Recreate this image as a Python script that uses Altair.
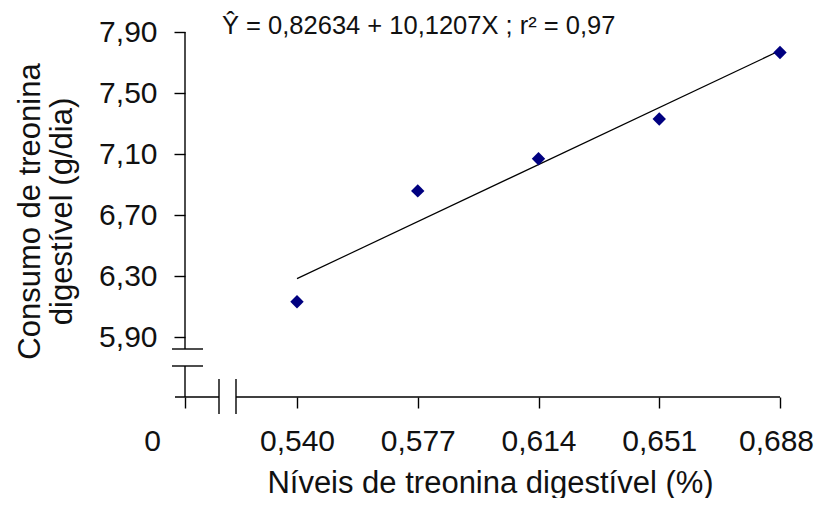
import altair as alt
import pandas as pd

# ---------------- data ----------------
levels = [0.540, 0.577, 0.614, 0.651, 0.688]          # Níveis de treonina digestível (%)
intake = [6.133, 6.859, 7.069, 7.330, 7.766]          # Consumo de treonina digestível (g/dia)
y_ticks = [5.90, 6.30, 6.70, 7.10, 7.50, 7.90]
origin_label = "0"
equation = "Ŷ = 0,82634  + 10,1207X ; r² = 0,97"
x_title = "Níveis de treonina digestível (%)"
y_title = ["Consumo de treonina", "digestível (g/dia)"]

# ---------------- layout ----------------
FONT = "Liberation Sans"
TXT = "#111111"
W, H = 595, 365
X_MIN, X_MAX = 0.50568, 0.688
Y_MIN, Y_MAX = 5.5085, 7.90
PX_X = W / (X_MAX - X_MIN)
PX_Y = H / (Y_MAX - Y_MIN)


def at_x(px):
    """data x at px pixels right of the y-axis line"""
    return X_MIN + px / PX_X


def at_y(px):
    """data y at px pixels above the x-axis line"""
    return Y_MIN + px / PX_Y


# hand-drawn axis lines with the break marks
segments = pd.DataFrame([
    dict(x=at_x(0), x2=at_x(0), y=Y_MAX, y2=at_y(48)),        # y axis, upper part
    dict(x=at_x(0), x2=at_x(0), y=at_y(31), y2=at_y(0)),      # y axis, lower part
    dict(x=at_x(-13), x2=at_x(18), y=at_y(48), y2=at_y(48)),  # y break mark
    dict(x=at_x(-13), x2=at_x(18), y=at_y(31), y2=at_y(31)),  # y break mark
    dict(x=at_x(-10), x2=at_x(34), y=at_y(0), y2=at_y(0)),    # x axis, left part
    dict(x=at_x(51), x2=X_MAX, y=at_y(0), y2=at_y(0)),        # x axis, right part
    dict(x=at_x(34), x2=at_x(34), y=at_y(18), y2=at_y(-17)),  # x break mark
    dict(x=at_x(51), x2=at_x(51), y=at_y(18), y2=at_y(-17)),  # x break mark
])

pts = pd.DataFrame({"x": levels, "y": intake})

x_scale = alt.Scale(domain=[X_MIN, X_MAX], nice=False, zero=False)
y_scale = alt.Scale(domain=[Y_MIN, Y_MAX], nice=False, zero=False)

first = levels[0] - 0.01
last = levels[-1] - 0.01
x_axis = alt.Axis(
    values=[X_MIN] + levels,
    labelExpr=f"datum.value < {first} ? '{origin_label}' : replace(format(datum.value, '.3f'), '.', ',')",
    labelOffset={
        "condition": [
            {"test": f"datum.value < {first}", "value": -33},
            {"test": f"datum.value > {last}", "value": -4},
        ],
        "value": 0,
    },
    labelFlush=False, labelOverlap=False,
    tickSize=11, labelPadding=18, domain=False, grid=False,
    title=x_title, titleX=305, titleY=95, titleAlign="center", titleBaseline="alphabetic",
)
y_axis = alt.Axis(
    values=y_ticks,
    labelExpr="replace(format(datum.value, '.2f'), '.', ',')",
    labelFlush=False, labelOverlap=False,
    tickSize=11, labelPadding=17, domain=False, grid=False,
    title=y_title, titleAngle=270, titleX=-146, titleY=179, titleAlign="center",
    titleBaseline="alphabetic", titleLineHeight=32,
)

X = alt.X("x:Q", scale=x_scale, axis=x_axis)
Y = alt.Y("y:Q", scale=y_scale, axis=y_axis)

axes_lines = alt.Chart(segments).mark_rule(color="#000000", strokeWidth=1.4).encode(
    x=X, x2="x2:Q", y=Y, y2="y2:Q"
)

trend = alt.Chart(pts).transform_regression("x", "y").mark_line(
    color="#000000", strokeWidth=1.2
).encode(x=X, y=Y)

points = alt.Chart(pts).mark_point(
    shape="diamond", filled=True, size=180, color="#000080", opacity=1
).encode(x=X, y=Y)

chart = alt.layer(axes_lines, trend, points).properties(
    width=W, height=H,
    background="white",
    autosize=alt.AutoSizeParams(type="none"),
    padding={"left": 177, "top": 24, "right": 34, "bottom": 101},
    title=alt.TitleParams(
        equation, anchor="start", frame="group", dx=37, dy=42, offset=0,
        baseline="alphabetic", fontSize=25.5, font=FONT, fontWeight="normal", color=TXT,
    ),
).configure_view(stroke=None).configure_axis(
    labelFont=FONT, titleFont=FONT, labelFontSize=30, titleFontSize=31,
    labelColor=TXT, titleColor=TXT, titleFontWeight="normal",
    tickColor="#000000", tickWidth=1.4,
)

chart.save("out.html", embed_options={"renderer": "svg", "actions": False})
